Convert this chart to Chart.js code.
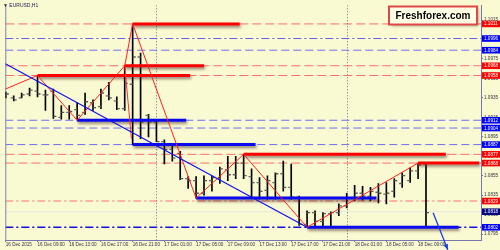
<!DOCTYPE html>
<html><head><meta charset="utf-8">
<script src="https://cdn.jsdelivr.net/npm/chart.js@4/dist/chart.umd.min.js"></script>
<style>html,body{margin:0;padding:0;background:#FAFAD2;}#wrap{width:500px;height:250px;position:relative}canvas{display:block}</style>
</head><body>
<div id="wrap"><canvas id="c" width="500" height="250"></canvas></div>
<script>
// ---- data (hours relative to 17 Dec 2015 00:00) ----
const barHours = [-19,-18,-17,-16,-15,-14,-13,-12,-11,-10,-9,-8,-7,-6,-5,-4,-3,-2,-1,0,1,2,3,4,5,6,7,8,9,10,11,12,13,14,15,16,17,18,19,20,21,22,23,24,25,26,27,28,29,30,31,32,33,34];
const opens  = [1.0937,1.0935,1.0935,1.0939,1.0942,1.0938,1.0942,1.0915,1.0920,1.0923,1.0920,1.0930,1.0926,1.0937,1.0932,1.0924,1.0949,1.0977,1.0917,1.0910,1.0890,1.0882,1.0878,1.0852,1.0850,1.0837,1.0850,1.0852,1.0861,1.0856,1.0868,1.0854,1.0848,1.0840,1.0848,1.0857,1.0843,1.0833,1.0805,1.0817,1.0808,1.0816,1.0817,1.0824,1.0832,1.0837,1.0834,1.0838,1.0836,1.0839,1.0847,1.0850,1.0860,1.0867];
const highs  = [1.0941,1.0937,1.0940,1.0945,1.0958,1.0943,1.0944,1.0927,1.0927,1.0930,1.0940,1.0933,1.0944,1.0951,1.0936,1.0968,1.1011,1.0981,1.0918,1.0912,1.0892,1.0887,1.0880,1.0854,1.0854,1.0855,1.0855,1.0864,1.0875,1.0875,1.0877,1.0862,1.0853,1.0855,1.0858,1.0870,1.0867,1.0834,1.0819,1.0819,1.0817,1.0818,1.0826,1.0837,1.0845,1.0844,1.0843,1.0847,1.0848,1.0852,1.0858,1.0863,1.0868,1.0868];
const lows   = [1.0935,1.0932,1.0935,1.0937,1.0936,1.0922,1.0914,1.0913,1.0913,1.0912,1.0918,1.0922,1.0924,1.0933,1.0923,1.0922,1.0887,1.0893,1.0895,1.0890,1.0867,1.0870,1.0851,1.0842,1.0832,1.0835,1.0839,1.0847,1.0850,1.0852,1.0852,1.0833,1.0831,1.0831,1.0831,1.0839,1.0831,1.0804,1.0802,1.0803,1.0803,1.0803,1.0814,1.0822,1.0829,1.0830,1.0829,1.0827,1.0826,1.0833,1.0843,1.0848,1.0852,1.0802];
const closes = [1.0939,1.0933,1.0938,1.0943,1.0939,1.0938,1.0916,1.0920,1.0921,1.0917,1.0931,1.0925,1.0940,1.0935,1.0924,1.0950,1.0977,1.0910,1.0910,1.0890,1.0882,1.0873,1.0852,1.0850,1.0837,1.0850,1.0853,1.0862,1.0856,1.0868,1.0855,1.0848,1.0839,1.0850,1.0857,1.0843,1.0833,1.0805,1.0817,1.0808,1.0816,1.0817,1.0824,1.0832,1.0837,1.0834,1.0839,1.0837,1.0837,1.0850,1.0855,1.0860,1.0866,1.0817];

const yTickValues = [1.1015,1.0995,1.0975,1.0955,1.0935,1.0915,1.0895,1.0875,1.0855,1.0835,1.0815,1.0795];
const xTickHours  = [-19,-15,-11,-7,-3,1,5,9,13,17,21,25,29,33];
const xTickLabels = ['16 Dec 2015','16 Dec 09:00','16 Dec 13:00','16 Dec 17:00','16 Dec 21:00','17 Dec 01:00','17 Dec 05:00','17 Dec 09:00','17 Dec 13:00','17 Dec 17:00','17 Dec 21:00','18 Dec 01:00','18 Dec 05:00','18 Dec 09:00'];
const daySeparators = [0, 24];

const levelPrices = [1.1011,1.0996,1.0984,1.0968,1.0958,1.0912,1.0904,1.0887,1.0877,1.0868,1.0829,1.0818,1.0802];
const levelKinds  = ['res','supDD','sup','res','res','sup','sup','sup','res','res','resDD','cur','supDD2'];

const zigzagHours  = [-19.06,-15,-10,-4,-3,5,11,19,33];
const zigzagPrices = [1.0944,1.0958,1.0912,1.0968,1.1011,1.0832,1.0877,1.0802,1.0868];
const legHours  = [-4,-3.15];
const legPrices = [1.0968,1.0893];
const trendHours  = [-19.06,19];
const trendPrices = [1.0970,1.0802];
const arrowHours  = [34.9,36.75];
const arrowPrices = [1.0817,1.0779];

const segStarts = [-3,-4,-15,11,33,-10,-3,5,19];
const segEnds   = [10.5,6,4.25,36.5,40.7,3.75,12.5,27.75,38.1];
const segPrices = [1.1011,1.0968,1.0958,1.0877,1.0868,1.0912,1.0887,1.0832,1.0802];
const segKinds  = ['res','res','res','res','res','sup','sup','sup','sup'];

// ---- styles ----
const STY = {
  res:   {line:'#FF6B6B', dash:[9,4], w:1, box:'#FF0000'},
  resDD: {line:'#FF7070', dash:[8,3,2,3], w:1, box:'#FF0000'},
  sup:   {line:'#6E6EF0', dash:[8,4], w:1, box:'#0000FF'},
  supDD: {line:'#6060E8', dash:[8,3,2,3], w:1, box:'#0000FF'},
  supDD2:{line:'#1010D8', dash:[8,3,2,3], w:1.4, box:'#0000FF'},
  cur:   {line:'#E6E6E0', dash:[], w:1, box:'#000080'}
};
const SEGCOL = {res:'#FF0000', sup:'#0A0AF0'};
const FONT = 'Arial, "Liberation Sans", sans-serif';
const tickOff = 0.19;

const datasets = [];
datasets.push({type:'line', order:0, data:arrowHours.map((h,i)=>({x:h,y:arrowPrices[i]})), borderColor:'#1A3CF0', borderWidth:1.3, pointRadius:0, clip:false, arrow:true});
datasets.push({type:'line', order:1, data:trendHours.map((h,i)=>({x:h,y:trendPrices[i]})), borderColor:'#1010F0', borderWidth:1.2, pointRadius:0});
datasets.push({type:'line', order:2, data:zigzagHours.map((h,i)=>({x:h,y:zigzagPrices[i]})), borderColor:'#FF2020', borderWidth:1, pointRadius:0});
datasets.push({type:'line', order:2, data:legHours.map((h,i)=>({x:h,y:legPrices[i]})), borderColor:'#FF3030', borderWidth:1, pointRadius:0});
segStarts.forEach((s,i)=>{
  datasets.push({type:'line', order:3, shadow:true, data:[{x:s,y:segPrices[i]},{x:segEnds[i],y:segPrices[i]}], borderColor:SEGCOL[segKinds[i]], borderWidth:3, pointRadius:0, borderCapStyle:'butt'});
});
datasets.push({type:'line', order:4, showLine:false, data:barHours.map((h,i)=>({x:h-tickOff,y:opens[i]})), pointStyle:'line', pointRadius:1.5, borderWidth:1.3, borderColor:'#666666', pointBorderColor:'#666666'});
datasets.push({type:'line', order:4, showLine:false, data:barHours.map((h,i)=>({x:h+tickOff,y:closes[i]})), pointStyle:'line', pointRadius:1.5, borderWidth:1.3, borderColor:'#555555', pointBorderColor:'#555555'});
datasets.push({type:'bar', order:5, data:barHours.map((h,i)=>({x:h,y:[lows[i],highs[i]]})), backgroundColor:'#000000', borderWidth:0, barThickness:1, grouped:false});

const shadowPlugin = {
  id:'shadowPlugin',
  beforeDatasetDraw(chart,args){const ds=chart.data.datasets[args.index]; if(ds.shadow){const c=chart.ctx;c.save();c.shadowColor='rgba(70,40,40,0.6)';c.shadowBlur=3;c.shadowOffsetX=1;c.shadowOffsetY=2;}},
  afterDatasetDraw(chart,args){const ds=chart.data.datasets[args.index]; if(ds.shadow){chart.ctx.restore();}}
};

const levelsPlugin = {
  id:'levelsPlugin',
  beforeDatasetsDraw(chart){
    const c=chart.ctx, a=chart.chartArea, y=chart.scales.y, x=chart.scales.x;
    c.save();
    c.beginPath(); c.rect(a.left,a.top,a.right-a.left,a.bottom-a.top); c.clip();
    levelPrices.forEach((p,i)=>{
      const s=STY[levelKinds[i]]; const py=y.getPixelForValue(p);
      c.beginPath(); c.setLineDash(s.dash); c.strokeStyle=s.line; c.lineWidth=s.w;
      c.moveTo(a.left,py); c.lineTo(a.right,py); c.stroke();
    });
    daySeparators.forEach(h=>{
      const px=Math.round(x.getPixelForValue(h))+0.5;
      c.beginPath(); c.setLineDash([1,2]); c.strokeStyle='#6A6A8A'; c.lineWidth=1;
      c.moveTo(px,a.top); c.lineTo(px,a.bottom); c.stroke();
    });
    c.restore();
    c.save(); c.strokeStyle='#8080B0'; c.lineWidth=1; c.beginPath(); c.moveTo(a.left+0.5,a.top); c.lineTo(a.left+0.5,a.bottom); c.stroke(); c.restore();
  },
  afterDraw(chart){
    const c=chart.ctx, a=chart.chartArea, y=chart.scales.y;
    c.save();
    c.font='4.6px '+FONT; c.textBaseline='middle'; c.textAlign='left';
    levelPrices.forEach((p,i)=>{
      const s=STY[levelKinds[i]]; const py=y.getPixelForValue(p);
      c.fillStyle=s.box; c.fillRect(a.right+1,py-3.3,19,6.6);
      c.fillStyle='#FFFFFF'; c.fillText(p.toFixed(4),a.right+3,py+0.3);
    });
    const meta=chart.getDatasetMeta(0); const pts=meta.data;
    if(pts.length>1){
      const p0=pts[pts.length-2], p1=pts[pts.length-1];
      const ang=Math.atan2(p1.y-p0.y,p1.x-p0.x);
      c.fillStyle='#1A3CF0'; c.beginPath();
      c.moveTo(p1.x,p1.y);
      c.lineTo(p1.x-6*Math.cos(ang-0.4),p1.y-6*Math.sin(ang-0.4));
      c.lineTo(p1.x-6*Math.cos(ang+0.4),p1.y-6*Math.sin(ang+0.4));
      c.closePath(); c.fill();
    }
    c.fillStyle='#202050'; c.font='5px '+FONT; c.textBaseline='middle'; c.textAlign='left';
    c.fillText('\u25BC EURUSD,H1',3,5.5);
    c.shadowColor='rgba(0,0,0,0.35)'; c.shadowBlur=3; c.shadowOffsetX=1.5; c.shadowOffsetY=1.5;
    c.fillStyle='#FFFFE6'; c.fillRect(389,6.5,88,18);
    c.shadowColor='transparent';
    c.strokeStyle='#E04848'; c.lineWidth=2; c.strokeRect(389,6.5,88,18);
    c.fillStyle='#000000'; c.font='bold 10px '+FONT; c.textAlign='center'; c.textBaseline='middle';
    c.fillText('Freshforex.com',433,16);
    c.restore();
  }
};

new Chart(document.getElementById('c'), {
  type:'bar',
  data:{datasets},
  plugins:[shadowPlugin, levelsPlugin],
  options:{
    responsive:false, animation:false, events:[],
    layout:{padding:{left:1,top:1,right:0,bottom:0}},
    plugins:{legend:{display:false}, tooltip:{enabled:false}, title:{display:false}},
    scales:{
      x:{type:'linear', offset:false, min:-19.0625, max:40.9375,
        afterFit(s){s.height=10;},
        afterBuildTicks(s){s.ticks=xTickHours.map(v=>({value:v}));},
        grid:{drawOnChartArea:false, tickLength:2, color:'#7070A8', offset:false},
        border:{color:'#7878B0', width:1},
        ticks:{autoSkip:false, maxRotation:0, minRotation:0, align:'start', padding:0, color:'#303040', font:{size:4.6, family:FONT}, callback:(v,i)=>xTickLabels[i]}
      },
      y:{type:'linear', position:'right', min:1.078894, max:1.103014,
        afterFit(s){s.width=19;},
        afterBuildTicks(s){s.ticks=yTickValues.map(v=>({value:v}));},
        grid:{drawOnChartArea:false, tickLength:2, color:'#7070A8'},
        border:{color:'#7878B0', width:1},
        ticks:{autoSkip:false, padding:1, color:'#303040', font:{size:4.6, family:FONT}, callback:v=>v.toFixed(4)}
      }
    }
  }
});
</script>
</body></html>
